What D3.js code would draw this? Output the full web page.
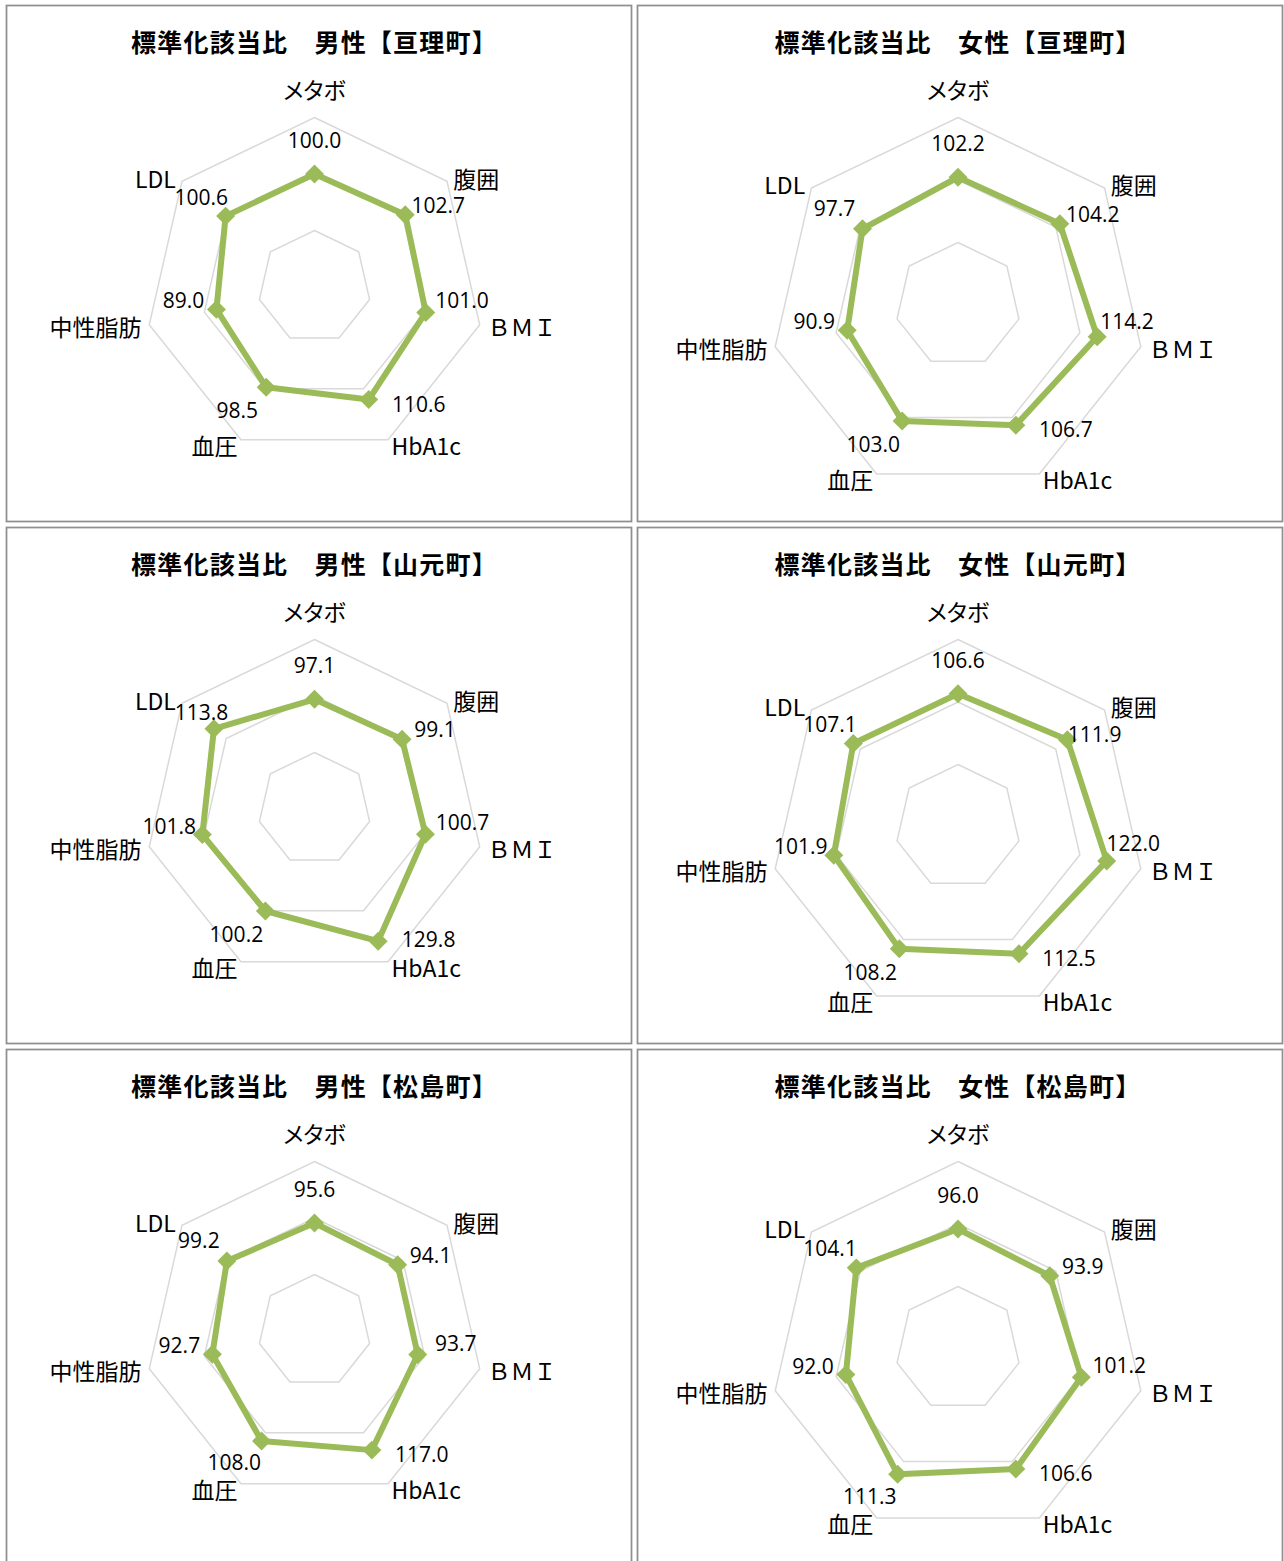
<!DOCTYPE html>
<html>
<head>
<meta charset="utf-8">
<script src="https://cdn.jsdelivr.net/npm/d3@7"></script>
<style>
  body { margin: 0; background: #fff; }
  svg text { font-family: "Noto Sans CJK JP", "Noto Sans", sans-serif; }
</style>
</head>
<body>
<svg id="chart" width="1284" height="1561"></svg>
<script>
// categories (clockwise from top)
const axes = ["メタボ", "腹囲", "ＢＭＩ", "HbA1c", "血圧", "中性脂肪", "LDL"];
const towns = ["亘理町", "山元町", "松島町"];
const sexes = ["男性", "女性"];
const ringValues = [50, 100, 150];

// standardized ratios
const watariMale = [100.0, 102.7, 101.0, 110.6, 98.5, 89.0, 100.6];
const watariFemale = [102.2, 104.2, 114.2, 106.7, 103.0, 90.9, 97.7];
const yamamotoMale = [97.1, 99.1, 100.7, 129.8, 100.2, 101.8, 113.8];
const yamamotoFemale = [106.6, 111.9, 122.0, 112.5, 108.2, 101.9, 107.1];
const matsushimaMale = [95.6, 94.1, 93.7, 117.0, 108.0, 92.7, 99.2];
const matsushimaFemale = [96.0, 93.9, 101.2, 106.6, 111.3, 92.0, 104.1];

const values = [
  [watariMale, watariFemale],
  [yamamotoMale, yamamotoFemale],
  [matsushimaMale, matsushimaFemale]
];

const svg = d3.select("#chart");
const green = "#9bbb59";

// panel frames: one column per sex, one row per town
const cols = [
  { x: 6.5, w: 625, cx: 308, cy: 281.5, radius: 169.5 },
  { x: 637.5, w: 645, cx: 320.5, cy: 299.5, radius: 187.5 }
];
const rowTops = [5.5, 527.5, 1049.5];
const panelH = 516;

// where a value label sits relative to its point, per spoke (Excel-like)
const labelOffsets = [[0, -34], [33, -10], [38, -12], [50, 4], [-29, 23], [-33, -9], [-28, -21]];

svg.append("rect").attr("width", 1284).attr("height", 1561).attr("fill", "#fff");

const step = 2 * Math.PI / axes.length;

function box(node) {
  const b = node.getBBox();
  return { x0: b.x + 1, x1: b.x + b.width - 1, y0: b.y + 2, y1: b.y + b.height - 2 };
}
const hit = (a, b) => a.x0 < b.x1 && b.x0 < a.x1 && a.y0 < b.y1 && b.y0 < a.y1;

towns.forEach((town, ri) => {
  sexes.forEach((sex, ci) => {
    const col = cols[ci];
    const top = rowTops[ri];
    const data = values[ri][ci];

    const g = svg.append("g").attr("transform", `translate(${col.x},${top})`);

    g.append("rect")
      .attr("width", col.w).attr("height", panelH)
      .attr("fill", "#fff")
      .attr("stroke", "#8f8f8f").attr("stroke-width", 1.75);

    g.append("text")
      .attr("x", col.cx).attr("y", 35)
      .attr("text-anchor", "middle").attr("dominant-baseline", "central")
      .attr("font-size", 25).attr("font-weight", 700)
      .attr("letter-spacing", 1.2)
      .attr("fill", "#000")
      .text(`標準化該当比　${sex}【${town}】`);

    const r = d3.scaleLinear().domain([0, 150]).range([0, col.radius]);
    const c = g.append("g").attr("transform", `translate(${col.cx},${col.cy})`);

    const radial = d3.lineRadial()
      .angle((d, i) => i * step)
      .radius(d => r(d))
      .curve(d3.curveLinearClosed);

    c.selectAll("path.ring")
      .data(ringValues)
      .join("path")
      .attr("class", "ring")
      .attr("d", v => radial(axes.map(() => v)))
      .attr("fill", "none")
      .attr("stroke", "#d9d9d9")
      .attr("stroke-width", 1.5);

    // category labels just outside the outer ring
    const outer = r(150);
    const axisLabels = c.selectAll("text.axis")
      .data(axes)
      .join("text")
      .attr("class", "axis")
      .each(function (d, i) {
        const a = i * step - Math.PI / 2;
        const cos = Math.cos(a), sin = Math.sin(a);
        const t = d3.select(this);
        const vx = outer * cos, vy = outer * sin;
        if (Math.abs(cos) < 0.1) {
          t.attr("x", vx).attr("y", vy - 29).attr("text-anchor", "middle");
        } else {
          t.attr("x", vx + cos * 8).attr("y", vy + sin * 6)
            .attr("text-anchor", cos > 0 ? "start" : "end");
        }
      })
      .attr("dominant-baseline", "central")
      .attr("font-size", 23)
      .style("font-feature-settings", d => /[\u30A0-\u30FF]/.test(d) ? "'palt'" : "normal")
      .attr("fill", "#000")
      .text(d => d);

    const axisBoxes = axisLabels.nodes().map(box);

    c.append("path")
      .attr("d", radial(data))
      .attr("fill", "none")
      .attr("stroke", green)
      .attr("stroke-width", 6)
      .attr("stroke-linejoin", "round");

    const pt = (v, i) => {
      const a = i * step - Math.PI / 2;
      return [r(v) * Math.cos(a), r(v) * Math.sin(a)];
    };

    c.selectAll("path.marker")
      .data(data)
      .join("path")
      .attr("class", "marker")
      .attr("d", d3.symbol(d3.symbolSquare).size(180))
      .attr("transform", (d, i) => {
        const [x, y] = pt(d, i);
        return `translate(${x},${y}) rotate(45)`;
      })
      .attr("fill", green);

    c.selectAll("text.value")
      .data(data)
      .join("text")
      .attr("class", "value")
      .attr("text-anchor", "middle")
      .attr("dominant-baseline", "central")
      .style("font-family", "'Open Sans', 'Noto Sans', sans-serif")
      .attr("font-size", 21)
      .attr("fill", "#000")
      .text(d => d.toFixed(1))
      .each(function (d, i) {
        const [px, py] = pt(d, i);
        let x = px + labelOffsets[i][0], y = py + labelOffsets[i][1];
        // push the label away from any category label it runs into
        for (let k = 0; k < 40; k++) {
          this.setAttribute("x", x);
          this.setAttribute("y", y);
          const b = box(this);
          const a = axisBoxes.find(ab => hit(ab, b));
          if (!a) break;
          const vx = (b.x0 + b.x1 - a.x0 - a.x1) / 2, vy = (b.y0 + b.y1 - a.y0 - a.y1) / 2;
          const len = Math.hypot(vx, vy) || 1;
          x += vx / len;
          y += vy / len;
        }
      });
  });
});
</script>
</body>
</html>
